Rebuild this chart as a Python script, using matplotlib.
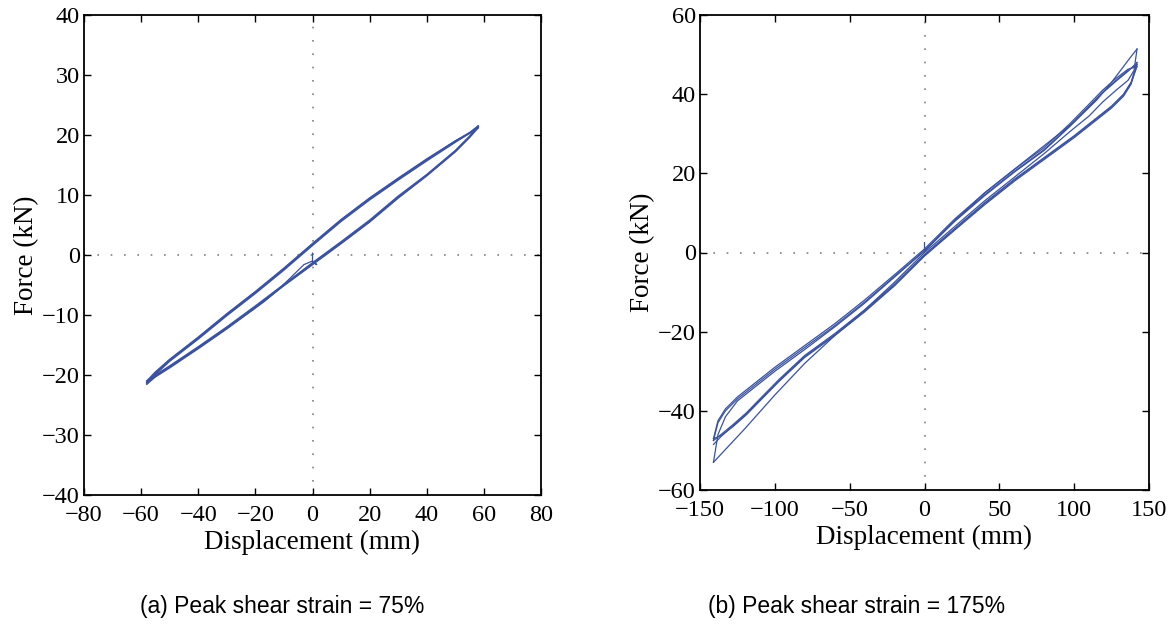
import numpy as np
import matplotlib.pyplot as plt
from matplotlib import font_manager

# ---- (a) peak shear strain 75% ----
xa_up = [-58, -55, -50, -40, -30, -20, -10, 0, 10, 20, 30, 40, 50, 55, 58]
xa_dn = [58, 55, 50, 40, 30, 20, 10, 0, -10, -20, -30, -40, -50, -55, -58]
fa_up = [
    [-21.5, -19.9, -17.7, -14.0, -10.1, -6.4, -2.5, 1.6, 5.6, 9.2, 12.5, 15.7, 18.8, 20.3, 21.4],
    [-21.3, -19.7, -17.5, -13.8, -9.9, -6.2, -2.3, 1.8, 5.8, 9.4, 12.7, 15.9, 19.0, 20.4, 21.5],
    [-21.0, -19.5, -17.4, -13.7, -9.8, -6.1, -2.2, 1.9, 5.9, 9.5, 12.8, 16.0, 19.0, 20.3, 21.2],
]
fa_dn = [
    [21.4, 19.7, 17.3, 13.3, 9.6, 5.6, 2.0, -1.5, -5.0, -8.7, -12.2, -15.5, -18.6, -20.2, -21.3],
    [21.5, 19.8, 17.4, 13.4, 9.8, 5.8, 2.2, -1.3, -4.9, -8.5, -12.0, -15.3, -18.5, -20.0, -21.0],
    [21.2, 19.6, 17.2, 13.2, 9.5, 5.5, 1.9, -1.6, -5.1, -8.8, -12.3, -15.6, -18.8, -20.3, -21.5],
]
xa_init = [0, 0, 1.5, 0, -3, -6, -9, -13, -17, -22, -30, -40, -50, -55, -58]
fa_init = [0.3, -1.2, -1.6, -1.0, -1.6, -3.0, -4.4, -6.2, -7.8, -9.5, -12.2, -15.5, -18.6, -20.2, -21.3]

# ---- (b) peak shear strain 175% ----
xb_up = [-141, -138, -133, -125, -115, -100, -80, -60, -40, -20, 0, 20, 40, 60, 80, 97, 110, 119, 128, 136, 142]
xb_dn = [142, 138, 133, 125, 115, 100, 80, 60, 40, 20, 0, -20, -40, -60, -80, -97, -110, -119, -128, -136, -141]
fb_up = [
    [-53, -46, -41.5, -37.5, -34.5, -30, -24.5, -18.8, -12.8, -6.2, 0.4, 7.8, 14.3, 20.3, 25.8, 31.8, 36.8, 40.3, 43.3, 45.8, 48.0],
    [-47.5, -43, -40, -37, -34, -29.5, -24, -18.5, -12.5, -6, 0.5, 8, 14.5, 20.5, 26, 32, 37, 40.5, 43.5, 46, 47.5],
    [-47.0, -42.5, -39.5, -36.5, -33.5, -29, -23.5, -18, -12, -5.6, 0.9, 8.4, 15, 21, 26.5, 32.5, 37.5, 41, 44, 46.3, 47.0],
]
fb_dn = [
    [48.0, 43, 40, 37, 34, 29.5, 24, 18.5, 12.5, 6, -0.5, -8, -14.5, -20.5, -26, -32, -37, -40.5, -43.5, -46, -47.5],
    [47.5, 42.5, 39.5, 36.5, 33.5, 29, 23.5, 18, 12, 5.6, -0.9, -8.4, -15, -21, -26.5, -32.5, -37.5, -41, -44, -46.3, -47.0],
    [47.0, 42.8, 39.8, 36.8, 33.8, 29.3, 23.8, 18.3, 12.3, 5.8, -0.7, -8.2, -14.8, -20.8, -26.3, -32.3, -37.3, -40.8, -43.8, -46.5, -48.5],
]
xb_init = [0, 0, 20, 40, 60, 80, 100, 115, 125, 133, 138, 142]
fb_init = [2.5, 0.3, 8.0, 15.0, 21.0, 27.0, 33.0, 38.5, 43.0, 47.0, 49.5, 51.4]
xb_first_dn = [142, 140, 136, 128, 119, 110, 97, 80, 60, 40, 20, 0, -20, -40, -60, -80, -100, -120, -141]
fb_first_dn = [51.4, 46, 43.5, 41, 38, 34.5, 30.5, 25, 19, 13, 6.5, 0, -7.5, -14.5, -21, -28, -36, -44.5, -53]

captions = ['(a) Peak shear strain = 75%', '(b) Peak shear strain = 175%']

line_c = '#3a52a0'
zero_c = '#808080'

names = {f.name for f in font_manager.fontManager.ttflist}
cap_family = ['Liberation Sans Narrow', 'Liberation Sans', 'DejaVu Sans']
cap_size = 19 if 'Liberation Sans Narrow' in names else 16.5

plt.rcParams['font.family'] = ['Liberation Serif', 'DejaVu Serif']
fig = plt.figure(figsize=(11.72, 6.35), dpi=100)
ax1 = fig.add_axes([84 / 1172, 1 - 495 / 635, 457 / 1172, 480 / 635])
ax2 = fig.add_axes([700 / 1172, 1 - 490 / 635, 449 / 1172, 475 / 635])


def style(ax, xlim, ylim, xt, yt):
    ax.axhline(0, color=zero_c, lw=1.2, ls=(0, (1, 7)), zorder=1)
    ax.axvline(0, color=zero_c, lw=1.2, ls=(0, (1, 7)), zorder=1)
    ax.set_xlim(xlim)
    ax.set_ylim(ylim)
    ax.set_xticks(xt)
    ax.set_yticks(yt)
    ax.tick_params(direction='in', top=True, right=True, length=5, width=1,
                   labelsize=17.5)
    ax.tick_params(axis='x', pad=7)
    ax.tick_params(axis='y', pad=3)
    for s in ax.spines.values():
        s.set_linewidth(1.3)
    ax.set_xlabel('Displacement (mm)', fontsize=19.5, labelpad=3)
    ax.set_ylabel('Force (kN)', fontsize=19.5, labelpad=2)


style(ax1, (-80, 80), (-40, 40), range(-80, 81, 20), range(-40, 41, 10))
style(ax2, (-150, 150), (-60, 60), range(-150, 151, 50), range(-60, 61, 20))

ax1.plot(xa_init, fa_init, color=line_c, lw=0.9)
for fu, fd in zip(fa_up, fa_dn):
    ax1.plot(xa_up, fu, color=line_c, lw=1.1)
    ax1.plot(xa_dn, fd, color=line_c, lw=1.1)

ax2.plot(xb_init, fb_init, color=line_c, lw=0.9)
ax2.plot(xb_first_dn, fb_first_dn, color=line_c, lw=0.9)
for fu, fd in zip(fb_up, fb_dn):
    ax2.plot(xb_up, fu, color=line_c, lw=0.9)
    ax2.plot(xb_dn, fd, color=line_c, lw=0.9)

for cx, txt in zip([282, 857], captions):
    fig.text(cx / 1172, 1 - 607 / 635, txt, ha='center', va='center',
             fontsize=cap_size, family=cap_family)

fig.savefig('out.png', dpi=100)
